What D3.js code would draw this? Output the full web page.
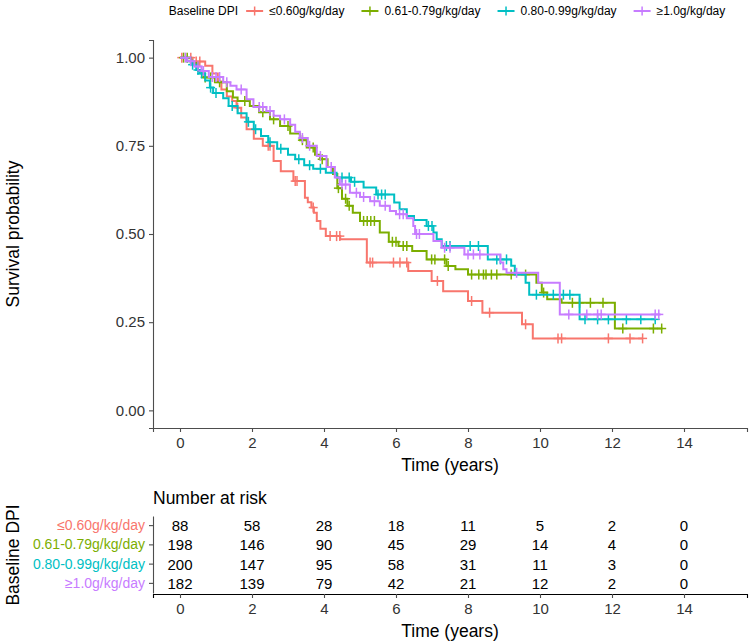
<!DOCTYPE html>
<html><head><meta charset="utf-8">
<script src="https://cdn.jsdelivr.net/npm/d3@7"></script>
<style>body{margin:0;background:#fff}svg{display:block;font-family:"Liberation Sans",Arial,sans-serif}</style>
</head><body><svg id="c" width="750" height="642"></svg>
<script>
// ---------- data ----------
const groups = ["≤0.60g/kg/day","0.61-0.79g/kg/day","0.80-0.99g/kg/day","≥1.0g/kg/day"];
const legendTitle = "Baseline DPI";

const tLow  = [0,0.35,0.7,0.9,1.05,1.15,1.3,1.45,1.57,1.7,1.85,2.05,2.3,2.6,2.8,3.15,3.47,3.55,3.65,3.72,3.8,3.9,4.05,4.45,5.19,6.34,6.99,7.31,8.0,8.4,9.5,9.8,12.85];
const sLow  = [1,0.989,0.977,0.955,0.932,0.91,0.89,0.877,0.858,0.83,0.797,0.77,0.75,0.707,0.678,0.65,0.603,0.59,0.575,0.56,0.537,0.515,0.494,0.485,0.419,0.395,0.367,0.338,0.31,0.277,0.244,0.204,0.204];
const cLow  = [0.05,0.3,0.45,0.55,1.6,2.45,2.5,3.2,3.25,3.7,4.17,4.35,4.44,5.28,5.35,5.93,6.11,6.3,7.15,8.1,8.6,9.6,10.5,10.6,11.9,12.5,12.85];

const tMid1 = [0,0.3,0.5,0.65,0.97,1.3,1.47,1.6,1.94,2.2,2.5,2.78,3.06,3.33,3.52,3.75,3.89,4.1,4.25,4.37,4.5,4.65,4.8,5.0,5.55,5.8,6.07,6.45,6.85,7.4,7.65,8.0,9.9,10.05,10.2,10.6,12.08,13.4];
const sMid1 = [1,0.985,0.962,0.944,0.93,0.905,0.887,0.877,0.863,0.845,0.825,0.806,0.785,0.766,0.745,0.725,0.712,0.69,0.67,0.63,0.6,0.58,0.56,0.537,0.504,0.478,0.466,0.452,0.428,0.409,0.4,0.385,0.362,0.334,0.315,0.305,0.232,0.232];
const cMid1 = [0.1,0.2,0.7,0.85,1.1,1.8,2.3,2.6,3.0,3.4,3.7,3.95,4.4,4.6,4.7,5.1,5.2,5.3,5.4,5.9,6.0,6.2,6.3,6.99,7.08,7.35,7.45,8.1,8.3,8.43,8.5,8.65,8.8,9.2,9.6,10.1,10.9,11.1,11.4,11.75,12.3,13.15,13.38];

const tMid2 = [0,0.2,0.33,0.45,0.55,0.7,0.83,0.92,1.2,1.35,1.6,1.85,2.05,2.25,2.45,2.7,3.0,3.2,3.45,3.7,4.05,4.35,4.75,5.1,5.45,5.95,6.1,6.3,6.5,6.85,7.04,7.13,7.27,8.55,9.2,9.3,9.6,9.7,11.1,13.2];
const sMid2 = [1,0.99,0.98,0.965,0.955,0.935,0.915,0.9,0.885,0.863,0.842,0.818,0.797,0.778,0.76,0.742,0.725,0.712,0.695,0.685,0.674,0.66,0.648,0.632,0.612,0.589,0.57,0.551,0.54,0.523,0.504,0.485,0.466,0.428,0.41,0.385,0.362,0.328,0.258,0.258];
const cMid2 = [0.35,0.5,0.6,0.85,1.0,1.45,1.9,2.1,2.5,2.8,3.3,3.6,3.9,4.5,4.7,4.85,5.5,5.6,5.7,6.9,7.0,7.4,7.5,8.06,8.29,8.8,8.9,9.07,9.9,10.37,10.65,10.83,11.25,11.6,11.9,12.4,12.8,13.2];

const tHigh = [0,0.2,0.4,0.6,0.8,1.2,1.4,1.57,1.85,2.04,2.4,2.6,2.78,3.06,3.2,3.33,3.55,3.8,4.07,4.3,4.44,4.72,5.0,5.28,5.55,5.83,6.0,6.3,6.48,6.53,7.04,7.27,7.9,8.9,8.98,9.07,9.95,10.55,13.35];
const sHigh = [1,0.99,0.975,0.962,0.945,0.93,0.92,0.91,0.882,0.86,0.849,0.835,0.825,0.81,0.79,0.772,0.75,0.721,0.69,0.66,0.64,0.617,0.605,0.593,0.58,0.565,0.556,0.545,0.523,0.5,0.48,0.461,0.442,0.419,0.4,0.39,0.362,0.272,0.272];
const cHigh = [0.15,0.3,0.5,0.65,0.9,1.0,1.1,1.3,1.7,2.2,2.3,2.5,2.9,3.4,3.6,3.9,4.2,4.5,4.6,4.9,5.1,5.4,5.7,6.1,6.2,6.57,6.65,7.35,7.5,8.0,8.15,8.33,9.35,10.8,11.3,11.6,11.7,13.2,13.3];

const riskTimes = [0,2,4,6,8,10,12,14];
const riskLow  = [88,58,28,18,11,5,2,0];
const riskMid1 = [198,146,90,45,29,14,4,0];
const riskMid2 = [200,147,95,58,31,11,3,0];
const riskHigh = [182,139,79,42,21,12,2,0];

const xTicks = [0,2,4,6,8,10,12,14];
const yTicks = [0,0.25,0.5,0.75,1];

// ---------- styles ----------
const colors = ["#F8766D","#7CAE00","#00BFC4","#C77CFF"];
const series = [
  {t:tLow,s:sLow,c:cLow,r:riskLow},
  {t:tMid1,s:sMid1,c:cMid1,r:riskMid1},
  {t:tMid2,s:sMid2,c:cMid2,r:riskMid2},
  {t:tHigh,s:sHigh,c:cHigh,r:riskHigh}
];

const svg = d3.select("#c");
const axisCol = "#4d4d4d", textCol = "#333";
const FT = "Liberation Sans, Arial, sans-serif";
const x = d3.scaleLinear().domain([-0.75,15.75]).range([153,747]);
const y = d3.scaleLinear().domain([-0.05,1.05]).range([428,40]);

// axes main
const gx = svg.append("g").attr("transform","translate(0,428)")
  .call(d3.axisBottom(x).tickValues(xTicks).tickSize(4).tickPadding(5).tickFormat(d3.format("d")));
const gy = svg.append("g").attr("transform","translate(153,0)")
  .call(d3.axisLeft(y).tickValues(yTicks).tickSize(4).tickPadding(4).tickFormat(d3.format(".2f")));
[gx,gy].forEach(g=>{
  g.select(".domain").attr("stroke",axisCol).attr("stroke-width",1.1);
  g.selectAll(".tick line").attr("stroke",axisCol).attr("stroke-width",1.1);
  g.selectAll(".tick text").attr("fill",textCol).style("font-size","15px").style("font-family",FT);
});

svg.append("text").attr("x",450).attr("y",471).attr("text-anchor","middle")
  .style("font-size","17.5px").attr("fill","#000").text("Time (years)");
svg.append("text").attr("transform","translate(19,234) rotate(-90)").attr("text-anchor","middle")
  .style("font-size","17.5px").attr("fill","#000").text("Survival probability");

// curves
function stepVal(t,s,v){let k=0;for(let i=0;i<t.length;i++){if(t[i]<=v)k=i;}return s[k];}
const line = d3.line().x(d=>x(d[0])).y(d=>y(d[1])).curve(d3.curveStepAfter);
series.forEach((d,i)=>{
  const pts = d.t.map((tt,j)=>[tt,d.s[j]]);
  svg.append("path").attr("d",line(pts)).attr("fill","none").attr("stroke",colors[i]).attr("stroke-width",2);
  const g = svg.append("g").attr("stroke",colors[i]).attr("stroke-width",1.5);
  d.c.forEach(ct=>{
    const cx = x(ct), cy = y(stepVal(d.t,d.s,ct));
    g.append("line").attr("x1",cx-4.5).attr("x2",cx+4.5).attr("y1",cy).attr("y2",cy);
    g.append("line").attr("x1",cx).attr("x2",cx).attr("y1",cy-5).attr("y2",cy+5);
  });
});

// legend
const lg = svg.append("g").attr("transform","translate(0,11)");
const lt = lg.append("text").attr("x",0).attr("y",4).style("font-size","12px").attr("fill","#000").text(legendTitle);
let cur = lt.node().getComputedTextLength() + 8;
groups.forEach((g,i)=>{
  const k = lg.append("g").attr("stroke",colors[i]);
  k.append("line").attr("x1",cur).attr("x2",cur+17).attr("y1",0).attr("y2",0).attr("stroke-width",2);
  k.append("line").attr("x1",cur+4.5).attr("x2",cur+12.5).attr("y1",0).attr("y2",0).attr("stroke-width",1.5);
  k.append("line").attr("x1",cur+8.5).attr("x2",cur+8.5).attr("y1",-4.5).attr("y2",4.5).attr("stroke-width",1.5);
  cur += 17 + 6;
  const tx = lg.append("text").attr("x",cur).attr("y",4).style("font-size","12px").attr("fill","#000").text(g);
  cur += tx.node().getComputedTextLength() + (i<groups.length-1?17:0);
});
lg.attr("transform",`translate(${447-cur/2},11)`);

// risk table
const rowY = d3.scaleBand().domain(groups).range([516,593]);
svg.append("text").attr("x",153).attr("y",504).style("font-size","17.5px").attr("fill","#000").text("Number at risk");
const tgx = svg.append("g").attr("transform","translate(0,594)")
  .call(d3.axisBottom(x).tickValues(xTicks).tickSize(4).tickPadding(5).tickFormat(d3.format("d")));
const tgy = svg.append("g").attr("transform","translate(153,0)")
  .call(d3.axisLeft(rowY).tickSize(4).tickPadding(4).tickSizeOuter(0));
tgx.select(".domain").attr("stroke","#000").attr("stroke-width",1.1);
tgy.select(".domain").attr("stroke",axisCol).attr("stroke-width",1.1);
[tgx,tgy].forEach(g=>{
  g.selectAll(".tick line").attr("stroke",axisCol).attr("stroke-width",1.1);
  g.selectAll(".tick text").style("font-size","15px").style("font-family",FT);
});
tgx.selectAll(".tick text").attr("fill",textCol);
tgy.selectAll(".tick text").attr("fill",(d,i)=>colors[i]).style("font-size","14px");
series.forEach((d,i)=>{
  svg.append("g").selectAll("text").data(d.r).join("text")
    .attr("x",(v,j)=>x(riskTimes[j])).attr("y",rowY(groups[i])+rowY.bandwidth()/2+5.5)
    .attr("text-anchor","middle").style("font-size","15px").attr("fill","#000").text(v=>v);
});
svg.append("text").attr("x",450).attr("y",637).attr("text-anchor","middle")
  .style("font-size","17.5px").attr("fill","#000").text("Time (years)");
svg.append("text").attr("transform","translate(19,555) rotate(-90)").attr("text-anchor","middle")
  .style("font-size","17.5px").attr("fill","#000").text("Baseline DPI");
</script></body></html>
